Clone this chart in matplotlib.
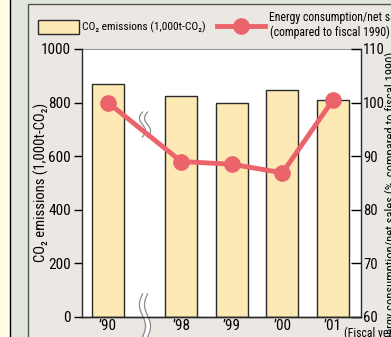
import numpy as np
import matplotlib
matplotlib.use("Agg")
import matplotlib.pyplot as plt
from matplotlib.patches import Rectangle
from matplotlib.lines import Line2D
from matplotlib.transforms import blended_transform_factory

plt.rcParams['font.family'] = ['Roboto Condensed', 'DejaVu Sans']

# ---- data ----
years = ["\u201990", "\u201998", "\u201999", "\u201900", "\u201901"]
co2_emissions = [869, 824, 797, 846, 810]          # 1,000t-CO2
energy_ratio = [100.0, 89.0, 88.5, 86.9, 100.5]    # % of fiscal 1990
left_ticks = [0, 200, 400, 600, 800, 1000]
right_ticks = [60, 70, 80, 90, 100, 110]

BAR_FILL = "#fde9b4"
EDGE = "#2a2a2a"
RED = "#eb636b"
PANEL = "#ebe7e3"

W, H = 391, 337
fig = plt.figure(figsize=(W / 100, H / 100), dpi=100)
fig.patch.set_facecolor("#fffde4")

def px(x, y):
    return x / W, 1 - y / H

# framed backgrounds
fig.add_artist(Rectangle(px(10, 400), 500 / W, 500 / H, transform=fig.transFigure,
                         facecolor="#e2e7db", edgecolor="black", lw=1.0, zorder=0))
fig.add_artist(Rectangle(px(28, 400), 500 / W, 396 / H, transform=fig.transFigure,
                         facecolor=PANEL, edgecolor="#555555", lw=1.0, zorder=0))

# axes in pixel layout
L, R, T, B = 82, 361, 49, 317
ax = fig.add_axes([L / W, (H - B) / H, (R - L) / W, (B - T) / H])
ax.set_facecolor("white")

xpos = np.array([0, 1.45, 2.45, 3.45, 4.45])
unit = (333 - 108) / 4.45
ax.set_xlim((L - 108) / unit, (R - 108) / unit)
ax.set_ylim(0, 1000)

ax.bar(xpos, co2_emissions, width=32 / unit, color=BAR_FILL, edgecolor=EDGE,
       linewidth=1.0, zorder=2)

ax2 = ax.twinx()
ax2.set_ylim(60, 110)
ax2.plot(xpos, energy_ratio, color=RED, lw=3.5, marker="o", ms=11,
         solid_capstyle="round", zorder=4)

ax.spines["top"].set_visible(False)
ax2.spines["top"].set_visible(False)
ax.spines["right"].set_visible(False)
ax2.spines["left"].set_visible(False)
for a in (ax, ax2):
    for s in a.spines.values():
        s.set_linewidth(1.0)
        s.set_color(EDGE)

TICK_FS = 11
ax.set_yticks(left_ticks)
ax.set_yticklabels([str(v) for v in left_ticks], fontsize=TICK_FS)
ax.tick_params(axis="y", direction="out", length=6, width=1, pad=2)
ax2.set_yticks(right_ticks)
ax2.set_yticklabels([str(v) for v in right_ticks], fontsize=10.5)
ax2.tick_params(axis="y", direction="in", length=7, width=1, pad=1.5)
ax.set_xticks(xpos)
ax.set_xticklabels(years, fontsize=TICK_FS)
ax.tick_params(axis="x", length=0, pad=1.5)

# top border of plotting area
ax.plot([0, 1], [1, 1], transform=ax.transAxes, color="#999999", lw=0.8, clip_on=False)

# axis break marks
bt = blended_transform_factory(ax.transData, ax.transAxes)
xb = (145 - 108) / unit

def wave(y0, y1, n=60):
    t = np.linspace(0, 1, n)
    yy = y0 + (y1 - y0) * t
    xx = 0.06 * np.sin(2 * np.pi * t)
    return xx, yy

for (y0, y1) in [((B - 137) / (B - T), (B - 112) / (B - T)),
                 ((B - 337) / (B - T), (B - 294) / (B - T))]:
    xx, yy = wave(y0, y1)
    ax.fill_betweenx(yy, xb - 0.05 + xx, xb + 0.05 + xx, color="white",
                     transform=bt, clip_on=False, zorder=5, lw=0)
    for d in (-0.05, 0.05):
        ax.plot(xb + d + xx, yy, color="#8a8a8a", lw=0.9, transform=bt,
                clip_on=False, zorder=6)

# axis labels
fig.text(*px(41.5, 182), "CO\u2082 emissions (1,000t-CO\u2082)", rotation=90,
         ha="center", va="center", fontsize=10.5)
fig.text(*px(391, 52), "Energy consumption/net sales (%, compared to fiscal 1990)",
         rotation=90, ha="center", va="top", fontsize=9)
fig.text(*px(344, 333), "(Fiscal year)", ha="left", va="center", fontsize=8.5)

# legend
fig.add_artist(Rectangle(px(38, 34), 41 / W, 14 / H, transform=fig.transFigure,
                         facecolor=BAR_FILL, edgecolor=EDGE, lw=1.0))
fig.text(*px(82, 27), "CO\u2082 emissions (1,000t-CO\u2082)", ha="left", va="center",
         fontsize=8.2)
fig.add_artist(Line2D([217 / W, 265 / W], [1 - 26 / H, 1 - 26 / H],
                      transform=fig.transFigure, color=RED, lw=3.5))
fig.add_artist(Line2D([241 / W], [1 - 26 / H], transform=fig.transFigure,
                      color=RED, marker="o", ms=11))
fig.text(*px(269, 18), "Energy consumption/net sales", ha="left", va="center",
         fontsize=8.5)
fig.text(*px(270, 32), "(compared to fiscal 1990)", ha="left", va="center",
         fontsize=8.5)

fig.savefig("out.png", dpi=100)
